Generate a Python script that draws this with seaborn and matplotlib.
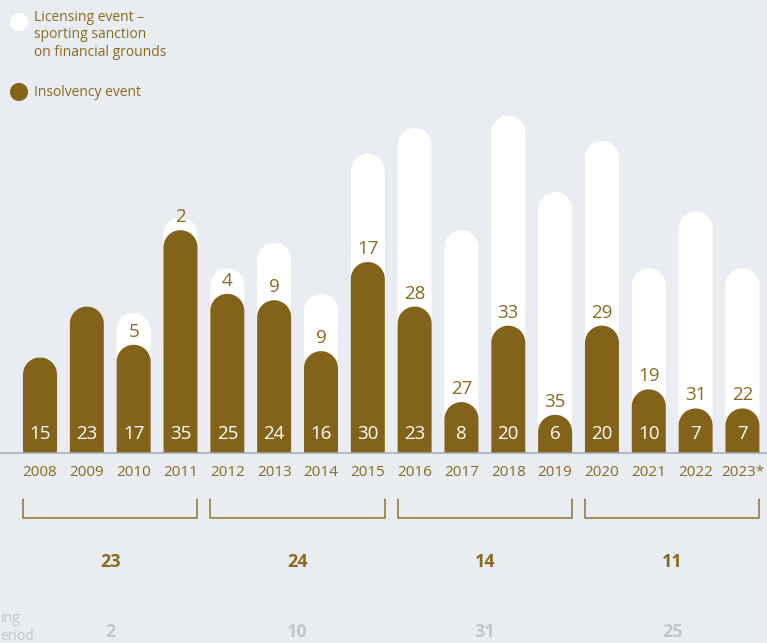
import numpy as np
import pandas as pd
import matplotlib
matplotlib.use("Agg")
import matplotlib.pyplot as plt
import seaborn as sns
from matplotlib.patches import Polygon

# ---- data ----
years = ["2008", "2009", "2010", "2011", "2012", "2013", "2014", "2015",
         "2016", "2017", "2018", "2019", "2020", "2021", "2022", "2023*"]
insolvency = [15, 23, 17, 35, 25, 24, 16, 30, 23, 8, 20, 6, 20, 10, 7, 7]
licensing = [0, 0, 5, 2, 4, 9, 9, 17, 28, 27, 33, 35, 29, 19, 31, 22]
period_insolvency = [23, 24, 14, 11]
period_licensing = [2, 10, 31, 25]

BG = "#e9edf1"
BROWN = "#836219"
TXT = "#8a6a1f"
GREY = "#c3c7cb"

sns.set_theme(style="white")
plt.rcParams["font.family"] = ["Open Sans", "DejaVu Sans"]

W, H = 767, 643
fig = plt.figure(figsize=(W / 100, H / 100), dpi=100, facecolor=BG)
ax = fig.add_axes([0, 0, 1, 1])
ax.set_facecolor(BG)

spacing = 46.83
x0px = 40.0
ppy = 6.366
base_px = 453.0
xlim = (-x0px / spacing, (W - x0px) / spacing)
ylim = (-(H - base_px) / ppy, base_px / ppy)

df = pd.DataFrame({"year": years,
                   "total": np.array(insolvency) + np.array(licensing),
                   "insolvency": insolvency})
bw = 34 / spacing
sns.barplot(data=df, x="year", y="total", color="white", width=bw,
            saturation=1, ax=ax, order=years)
sns.barplot(data=df, x="year", y="insolvency", color=BROWN, width=bw,
            saturation=1, ax=ax, order=years)
ax.set_xlim(*xlim)
ax.set_ylim(*ylim)
ax.axis("off")

ppx = W / (xlim[1] - xlim[0])

# round the tops of the bars
patches = list(ax.patches)
for p in patches:
    x, y = p.get_x(), p.get_y()
    w, h = p.get_width(), p.get_height()
    fc = p.get_facecolor()
    p.set_visible(False)
    if h <= 0:
        continue
    rx = w / 2
    ry = rx * ppx / ppy
    cx = x + rx
    th = np.linspace(0, np.pi, 60)
    top = np.column_stack([cx + rx * np.cos(th), y + h - ry + ry * np.sin(th)])
    pts = np.vstack([[x + w, y], top, [x, y]])
    ax.add_patch(Polygon(pts, closed=True, facecolor=fc, edgecolor="none", zorder=p.get_zorder()))

# baseline
ax.axhline(0, color="#a3abb3", lw=1.1, zorder=5)

# labels
for i, (ins, lic) in enumerate(zip(insolvency, licensing)):
    ax.text(i, 19 / ppy, str(ins), ha="center", va="center", color="white", fontsize=13.5, zorder=6)
    if lic > 0:
        ax.text(i, ins + 13 / ppy, str(lic), ha="center", va="center", color=TXT, fontsize=13.5, zorder=6)
    ax.text(i, -20 / ppy, years[i], ha="center", va="center", color=TXT, fontsize=11, zorder=6)

# brackets and period totals
for g in range(4):
    a = 4 * g - bw / 2
    b = 4 * g + 3 + bw / 2
    yt = -(499 - base_px) / ppy
    yb = -(518 - base_px) / ppy
    ax.plot([a, a, b, b], [yt, yb, yb, yt], color="#8f7330", lw=1.1, zorder=5)
    xc = 4 * g + 1.5
    ax.text(xc, -(562 - base_px) / ppy, str(period_insolvency[g]), ha="center", va="center",
            color=TXT, fontsize=13, fontweight="bold")
    ax.text(xc, -(632 - base_px) / ppy, str(period_licensing[g]), ha="center", va="center",
            color=GREY, fontsize=13, fontweight="bold")

# row label at bottom left (only its end is visible in the reference)
ax.text(-(x0px - 1) / spacing, -(618 - base_px) / ppy, "ing", ha="left", va="center",
        color=GREY, fontsize=10)
ax.text(-(x0px - 0.5) / spacing, -(636 - base_px) / ppy, "eriod", ha="left", va="center",
        color=GREY, fontsize=10)

# legend
def px(xp, yp):
    return (xp - x0px) / spacing, (base_px - yp) / ppy

lx, ly = px(19, 22)
ax.scatter([lx], [ly], s=170, color="white", edgecolor="none", zorder=6)
lx, ly = px(19, 92)
ax.scatter([lx], [ly], s=170, color=BROWN, edgecolor="none", zorder=6)
tx, ty = px(34, 35)
ax.text(tx, ty, "Licensing event –\nsporting sanction\non financial grounds", ha="left", va="center",
        color=TXT, fontsize=10, linespacing=1.25)
tx, ty = px(34, 92)
ax.text(tx, ty, "Insolvency event", ha="left", va="center", color=TXT, fontsize=10)

fig.savefig("out.png", dpi=100, facecolor=BG)
